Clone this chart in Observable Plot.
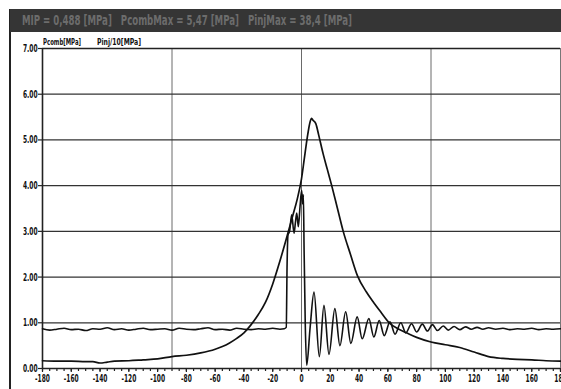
<!DOCTYPE html>
<html>
<head>
<meta charset="utf-8">
<script src="https://cdn.jsdelivr.net/npm/d3@7"></script>
<script src="https://cdn.jsdelivr.net/npm/@observablehq/plot@0.6"></script>
<style>
  html, body { margin: 0; padding: 0; background: #fff; }
  #wrap { position: relative; width: 561px; height: 389px; overflow: hidden; background: #fff;
          font-family: "Liberation Sans Narrow", "DejaVu Sans Condensed", "DejaVu Sans", sans-serif; }
  #titlebar { position: absolute; left: 10px; top: 9px; width: 551px; height: 23px; background: #353535; overflow: hidden; }
  #titletext { position: absolute; left: 12px; top: 0; color: #6c6c6c; font-size: 14px; font-weight: bold;
               line-height: 23px; white-space: pre; transform-origin: 0 50%; }
  #leftline { position: absolute; left: 9px; top: 9px; width: 2px; height: 380px; background: #222; }
  .leg { position: absolute; top: 37px; font-size: 9px; font-weight: bold; color: #111; white-space: pre;
         transform-origin: 0 50%; }
  #chart { position: absolute; left: 0; top: 0; }
  #chart svg { overflow: visible; }
</style>
</head>
<body>
<div id="wrap">
  <div id="leftline"></div>
  <div id="titlebar"><span id="titletext">MIP = 0,488 [MPa]   PcombMax = 5,47 [MPa]   PinjMax = 38,4 [MPa]</span></div>
  <span class="leg" id="leg1" style="left:43px">Pcomb[MPa]</span>
  <span class="leg" id="leg2" style="left:97px">Pinj/10[MPa]</span>
  <div id="chart"></div>
</div>
<script>
// Crank angle [deg] and combustion pressure [MPa]
const pcombAngle = [-180,-170,-160,-150,-145,-140,-135,-130,-120,-110,-100,-90,-80,-70,-60,-55,-50,-45,-40,-35,-30,-25,-20,-15,-10,-6,-3,0,2,4,6,7,8,10,12,15,18,21,25,29,34,39,45,50,55,61,67,73,80,90,100,110,120,130,140,150,160,170,180];
const pcombValue = [0.17,0.16,0.16,0.15,0.15,0.12,0.14,0.16,0.17,0.19,0.21,0.26,0.29,0.34,0.42,0.48,0.56,0.66,0.78,0.96,1.18,1.45,1.85,2.35,2.9,3.35,3.7,4.15,4.6,5.05,5.4,5.47,5.43,5.35,5.1,4.7,4.35,4.0,3.5,3.0,2.5,2.02,1.68,1.45,1.24,1.0,0.87,0.78,0.68,0.58,0.52,0.46,0.36,0.26,0.22,0.2,0.19,0.17,0.16];

// Crank angle [deg] and injection pressure / 10 [MPa]
const pinjAngle = [-180,-175,-170,-165,-160,-155,-150,-145,-140,-135,-130,-125,-120,-115,-110,-105,-100,-95,-90,-85,-80,-75,-70,-65,-60,-55,-50,-45,-40,-35,-30,-25,-20,-15,
  -12,-10.6,-10,-9.4,-8.3,-6.8,-5.2,-4.2,-3.3,-2.2,-1,0.1,0.8,1.3,1.8,2.6,3.6,6,8.7,12.4,15.6,19.1,23.2,26.7,30.7,34.3,38.7,42.2,46.8,50.3,54,57.5,61.5,65,69,72.5,76.5,80,84,87.5,91,94.5,98.5,102,106,110,114,118,122,126,130,135,140,145,150,155,160,165,170,175,180];
const pinjValue = [0.87,0.84,0.86,0.88,0.85,0.86,0.83,0.87,0.86,0.89,0.85,0.87,0.84,0.86,0.88,0.85,0.86,0.87,0.84,0.88,0.86,0.85,0.87,0.89,0.85,0.86,0.84,0.88,0.86,0.85,0.87,0.86,0.88,0.86,
  0.87,0.9,2.3,2.92,3.0,3.36,2.96,3.2,3.4,3.1,3.55,3.9,3.6,3.8,2.6,1.0,0.07,0.9,1.67,0.26,1.38,0.31,1.31,0.5,1.24,0.55,1.13,0.65,1.09,0.69,1.05,0.72,1.02,0.75,1.0,0.78,0.98,0.8,0.97,0.82,0.96,0.83,0.93,0.84,0.92,0.85,0.91,0.86,0.9,0.86,0.89,0.86,0.88,0.85,0.87,0.86,0.88,0.85,0.87,0.86,0.87];

// Axis ticks
const xLabelTicks = d3.range(-180, 181, 20);
const xMinorTicks = d3.range(-180, 181, 5);
const yTicks = [0, 1, 2, 3, 4, 5, 6, 7];
const hGrid = [1, 2, 3, 4, 5, 6];
const vGrid = [-90, 0, 90];

const pcomb = pcombAngle.map((a, i) => ({a, v: pcombValue[i]}));
const pinj = pinjAngle.map((a, i) => ({a, v: pinjValue[i]}));

const font = '"Liberation Sans Narrow", "DejaVu Sans Condensed", "DejaVu Sans", sans-serif';

const chart = Plot.plot({
  width: 561,
  height: 389,
  marginTop: 48,
  marginBottom: 21,
  marginLeft: 42,
  marginRight: 1,
  style: {fontFamily: font, fontSize: "11px", fontWeight: "bold", color: "#111", background: "transparent"},
  x: {domain: [-180, 180], label: null},
  y: {domain: [0, 7], label: null},
  marks: [
    Plot.ruleX(vGrid, {stroke: "#6a6a6a", strokeWidth: 1}),
    Plot.ruleX([180], {stroke: "#777", strokeWidth: 1}),
    Plot.ruleY(hGrid, {stroke: "#333", strokeWidth: 1.3}),
    Plot.ruleY([7], {stroke: "#222", strokeWidth: 1.6}),
    Plot.ruleY([0], {stroke: "#222", strokeWidth: 1.4}),
    Plot.ruleX([-180], {stroke: "#222", strokeWidth: 1.6}),
    Plot.line(pcomb, {x: "a", y: "v", stroke: "#111", strokeWidth: 1.7, curve: "monotone-x"}),
    Plot.line(pinj, {x: "a", y: "v", stroke: "#111", strokeWidth: 1.6, curve: "monotone-x"}),
    Plot.axisX({ticks: xMinorTicks, tickSize: 3, text: null, label: null, stroke: "#222", strokeWidth: 1.2}),
    Plot.axisX({ticks: xLabelTicks, tickSize: 4, tickPadding: 2, tickFormat: d => String(d), label: null, stroke: "#222", strokeWidth: 1.2, fill: "#111", fontSize: 11}),
    Plot.axisY({ticks: yTicks, tickSize: 4, tickPadding: 1, tickFormat: d => d.toFixed(2), label: null, stroke: "#222", strokeWidth: 1.2, fill: "#111", fontSize: 11})
  ]
});
document.getElementById("chart").appendChild(chart);

// Condense tick label text horizontally around its anchor (mimics a narrow font)
chart.querySelectorAll("text").forEach(t => {
  const b = t.getBBox();
  const anchor = getComputedStyle(t).textAnchor || t.getAttribute("text-anchor");
  let ax = b.x;
  if (anchor === "middle") ax = b.x + b.width / 2;
  else if (anchor === "end") ax = b.x + b.width;
  const prev = t.getAttribute("transform") || "";
  t.setAttribute("transform", `${prev} translate(${ax},0) scale(0.6,1) translate(${-ax},0)`);
});

// Fit HTML texts to the widths they occupy in the reference
function fit(el, w) {
  const cur = el.getBoundingClientRect().width;
  el.style.transform = `scaleX(${w / cur})`;
}
fit(document.getElementById("titletext"), 330);
fit(document.getElementById("leg1"), 38);
fit(document.getElementById("leg2"), 44);
</script>
</body>
</html>
